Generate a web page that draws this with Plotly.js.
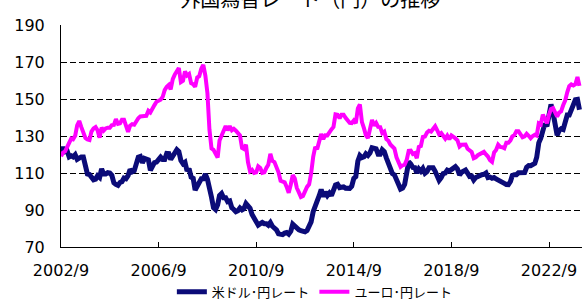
<!DOCTYPE html>
<html>
<head>
<meta charset="utf-8">
<script src="https://cdn.plot.ly/plotly-3.0.1.min.js"></script>
<style>html,body{margin:0;padding:0;background:#fff;overflow:hidden;}</style>
</head>
<body>
<div id="chart" style="width:582px;height:302px;"></div>
<script>
// Monthly series, starting 2002/9
const startYear = 2002, startMonth = 9;
const usdJpy = [
  121.5,123.9,121.6,122.0,
  118.7,119.3,118.7,119.9,117.4,118.3,118.7,118.7,114.8,109.5,109.2,107.7,
  106.3,106.7,108.5,107.6,112.2,109.4,109.4,110.2,110.0,108.8,104.7,103.8,
  103.3,104.9,105.3,107.3,106.9,108.6,111.9,110.6,111.2,114.8,118.5,118.9,
  115.5,117.9,117.3,117.1,111.5,114.5,115.6,115.9,117.2,118.6,117.3,117.3,
  120.6,120.5,117.3,118.8,120.8,122.6,121.6,116.7,115.0,115.8,111.1,112.4,
  107.8,107.1,100.8,102.6,104.3,106.9,106.9,109.4,106.6,100.1,96.9,91.3,
  90.3,92.9,97.8,98.9,96.6,96.6,94.5,94.9,91.2,90.3,89.1,89.6,
  91.1,90.1,90.7,93.5,91.8,90.9,87.6,85.4,84.4,81.8,82.6,83.3,
  82.6,82.6,81.8,83.2,81.2,80.5,79.3,77.1,76.8,76.7,77.5,77.8,
  76.9,78.5,82.4,81.3,79.7,79.3,78.9,78.7,78.2,78.9,80.9,83.6,
  89.1,93.1,94.8,97.7,101.1,97.3,99.7,97.8,99.2,97.8,100.0,103.5,
  103.9,102.1,102.3,102.5,101.8,102.1,101.7,102.9,107.1,108.0,116.4,119.4,
  118.3,118.8,120.4,119.5,120.8,123.7,123.3,123.1,120.1,120.1,122.6,121.6,
  118.2,115.0,113.0,109.7,109.0,105.5,103.9,101.3,101.8,103.8,108.6,116.1,
  114.9,113.0,112.9,110.1,112.2,110.9,112.4,109.9,110.8,112.9,112.9,112.9,
  110.9,107.9,106.0,107.5,109.7,110.0,111.5,111.0,111.9,112.8,113.4,112.2,
  108.9,110.4,111.2,111.6,109.9,108.1,108.3,106.2,107.6,108.2,108.9,109.1,
  109.3,110.0,107.5,107.8,107.2,107.6,106.8,106.0,105.6,105.2,104.4,103.8,
  103.7,105.4,108.7,109.1,109.1,110.1,110.2,109.8,110.2,113.1,114.0,113.9,
  114.8,115.2,118.5,126.3,128.8,133.9,136.7,135.3,143.2,147.1,142.4,135.4,
  130.4,133.0,133.9,133.5,137.1,141.3,141.3,144.8,147.9,149.6,149.8,144.2
];
const eurJpy = [
  119.0,121.0,121.7,124.2,
  126.1,128.6,128.2,130.1,135.8,138.1,134.9,132.4,128.9,128.1,127.8,132.4,
  134.1,134.8,133.1,129.1,134.5,132.9,134.1,134.5,134.5,135.9,136.0,139.1,
  136.6,136.9,138.8,138.8,135.4,132.2,135.6,136.4,136.1,138.1,139.6,140.6,
  140.5,140.8,140.9,143.6,142.7,145.1,146.7,148.5,148.9,149.6,151.1,154.8,
  156.6,157.6,155.2,160.7,163.2,164.6,166.8,159.1,159.8,164.9,162.7,163.5,
  158.6,158.0,156.6,161.6,162.3,166.3,168.5,162.7,153.2,133.5,123.3,122.5,
  119.7,118.3,127.6,130.3,131.7,135.4,133.1,135.3,133.1,133.9,132.9,131.2,
  130.3,123.5,123.0,125.3,115.8,110.9,111.7,110.0,110.3,113.6,112.7,110.1,
  110.4,112.8,114.4,120.4,116.5,115.9,113.3,110.4,105.8,105.1,105.0,102.5,
  99.3,103.8,108.9,107.0,101.9,99.5,97.0,97.6,100.5,102.5,103.9,109.7,
  118.7,124.1,122.9,127.5,131.1,128.4,130.4,130.3,132.4,133.6,134.9,141.7,
  141.5,139.6,141.5,141.5,139.8,138.7,137.1,137.0,138.4,136.9,145.0,147.1,
  137.5,134.1,130.4,128.9,134.8,138.7,135.7,137.1,134.9,134.8,131.6,132.4,
  128.3,127.4,125.4,124.4,123.2,118.5,115.2,113.3,114.2,114.5,117.1,122.0,
  122.1,120.3,120.7,118.0,124.1,124.6,129.5,129.7,131.9,132.8,132.4,133.6,
  135.3,133.1,130.9,131.6,129.6,128.5,130.2,128.2,130.3,129.7,128.7,127.7,
  124.3,125.3,125.6,125.4,123.1,122.1,121.4,118.0,118.5,119.6,120.3,121.2,
  121.4,120.0,118.9,116.9,116.0,121.1,122.4,125.3,124.1,123.9,123.4,126.3,
  126.3,127.6,129.8,130.5,132.6,132.6,130.4,129.3,129.8,131.2,130.1,128.8,
  130.0,130.7,130.2,136.8,136.2,141.6,139.2,136.9,141.6,144.6,145.1,142.8,
  140.5,142.7,143.3,146.6,149.1,153.6,156.9,157.9,157.3,158.0,161.9,157.1
];
const tickDates = ['2002-09-01','2006-09-01','2010-09-01','2014-09-01','2018-09-01','2022-09-01'];
const tickLabels = ['2002/9','2006/9','2010/9','2014/9','2018/9','2022/9'];
const seriesNames = ['米ドル･円レート','ユーロ･円レート'];
const titleText = '外国為替レート（円）の推移';

const months = [];
for (let i = 0; i < usdJpy.length; i++) {
  const m = startMonth - 1 + i;
  const y = startYear + Math.floor(m / 12);
  const mm = (m % 12) + 1;
  months.push(y + '-' + (mm < 10 ? '0' + mm : mm) + '-01');
}

const traces = [
  {x: months, y: usdJpy, name: seriesNames[0], type: 'scatter', mode: 'lines',
   line: {color: '#0b0b78', width: 5}},
  {x: months, y: eurJpy, name: seriesNames[1], type: 'scatter', mode: 'lines',
   line: {color: '#ff00ff', width: 4}}
];

const tickFont = {family: 'DejaVu Sans', size: 16, color: '#000'};
const layout = {
  width: 582, height: 302,
  margin: {l: 61, r: 0, t: 25, b: 55},
  paper_bgcolor: '#fff', plot_bgcolor: '#fff',
  title: {text: titleText, font: {family: 'Noto Sans CJK JP', size: 20, color: '#000'},
          xref: 'container', x: 0.533, xanchor: 'center',
          yref: 'container', y: 1, yanchor: 'middle'},
  xaxis: {type: 'date', range: ['2002-09-01', '2024-01-08'],
          tickmode: 'array', tickvals: tickDates, ticktext: tickLabels,
          ticks: 'inside', ticklen: 5, tickcolor: '#000', tickwidth: 1,
          showline: true, linecolor: '#000', linewidth: 1,
          showgrid: false, zeroline: false, tickfont: tickFont,
          ticklabelstandoff: 9},
  yaxis: {range: [70, 190], tick0: 70, dtick: 20, ticks: '',
          showline: true, linecolor: '#000', linewidth: 1,
          showgrid: true, gridcolor: '#000', gridwidth: 1, griddash: '6px,3px',
          zeroline: false, tickfont: tickFont, ticklabelstandoff: 12},
  showlegend: true,
  legend: {orientation: 'h', xref: 'container', x: 0.541, xanchor: 'center',
           yref: 'container', y: 0.034, yanchor: 'middle',
           font: {family: 'Noto Sans CJK JP', size: 13, color: '#000'},
           bgcolor: 'rgba(0,0,0,0)', itemwidth: 30, tracegroupgap: 0}
};

Plotly.newPlot('chart', traces, layout, {displayModeBar: false, staticPlot: true});
</script>
</body>
</html>
